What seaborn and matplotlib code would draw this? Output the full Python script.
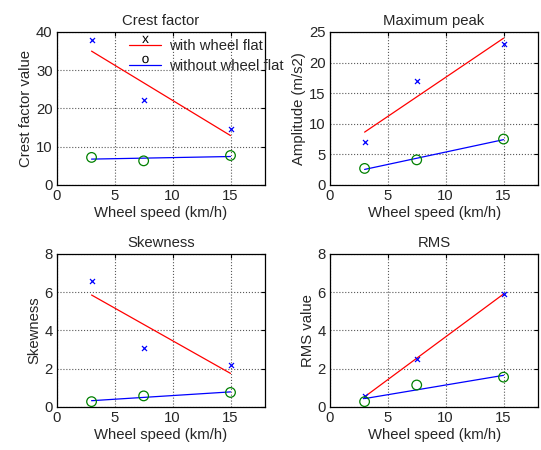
import numpy as np
import seaborn as sns
from matplotlib import pyplot as plt
from matplotlib.lines import Line2D
from matplotlib.path import Path
from matplotlib.textpath import TextPath
from matplotlib.font_manager import FontProperties

speed = [3, 7.5, 15]

crest_flat = [37.8, 22.2, 14.6]
crest_ok = [7.2, 6.3, 7.7]
peak_flat = [7.0, 17.0, 23.0]
peak_ok = [2.7, 4.1, 7.5]
skew_flat = [6.6, 3.1, 2.2]
skew_ok = [0.27, 0.57, 0.75]
rms_flat = [0.56, 2.48, 5.92]
rms_ok = [0.27, 1.14, 1.55]

panels = [
    ("Crest factor", "Crest factor value", crest_flat, crest_ok, 40, 10),
    ("Maximum peak", "Amplitude (m/s2)", peak_flat, peak_ok, 25, 5),
    ("Skewness", "Skewness", skew_flat, skew_ok, 8, 2),
    ("RMS", "RMS value", rms_flat, rms_ok, 8, 2),
]

FS = 10.7

sns.set_style("white")
plt.rcParams["font.family"] = ["Liberation Sans", "DejaVu Sans"]
plt.rcParams["font.size"] = FS


def glyph(ch):
    # text glyph as marker path, lifted above the legend line
    tp = TextPath((0, 0), ch, size=1, prop=FontProperties(family="Liberation Sans"))
    ext = tp.get_extents()
    v = tp.vertices.copy()
    v[:, 0] -= (ext.x0 + ext.x1) / 2
    v[:, 1] += 0.18
    return Path(v, tp.codes)


fig, axes = plt.subplots(2, 2, figsize=(5.41, 4.5), dpi=100)
fig.subplots_adjust(left=0.105, right=0.995, bottom=0.096, top=0.929,
                    wspace=0.31, hspace=0.45)

for ax, (title, ylabel, flat, ok, ymax, ystep) in zip(axes.flat, panels):
    sns.regplot(x=speed, y=flat, ci=None, marker="x", ax=ax,
                scatter_kws=dict(color="blue", s=13, linewidths=0.9, alpha=1, zorder=3),
                line_kws=dict(color="red", lw=0.9, zorder=2))
    sns.regplot(x=speed, y=ok, ci=None, marker="o", ax=ax,
                scatter_kws=dict(color="green", facecolors="none", s=48,
                                 linewidths=0.9, alpha=1, zorder=3),
                line_kws=dict(color="blue", lw=0.9, zorder=2))
    ax.set(xlim=(0, 18), ylim=(0, ymax), xticks=[0, 5, 10, 15],
           yticks=np.arange(0, ymax + 0.1, ystep))
    ax.set_title(title, fontsize=FS, pad=5)
    ax.set_xlabel("Wheel speed (km/h)", fontsize=FS, labelpad=2)
    ax.set_ylabel(ylabel, fontsize=FS, labelpad=2)
    ax.grid(True, color="0.35", linestyle=":", linewidth=0.8)
    ax.tick_params(direction="in", length=3, top=True, right=True,
                   labelsize=FS, pad=3, color="k")
    for sp in ax.spines.values():
        sp.set_color("k")
        sp.set_linewidth(0.9)

handles = [
    Line2D([], [], color="red", lw=0.9, marker=glyph("x"), markersize=14,
           markerfacecolor="k", markeredgewidth=0),
    Line2D([], [], color="blue", lw=0.9, marker=glyph("o"), markersize=14,
           markerfacecolor="k", markeredgewidth=0),
]
axes[0, 0].legend(handles, ["with wheel flat", "without wheel flat"],
                  loc="upper left", bbox_to_anchor=(0.33, 0.975), frameon=False,
                  handlelength=2.2, handletextpad=0.5, labelspacing=0.45,
                  borderaxespad=0, borderpad=0.2, fontsize=FS, numpoints=1)

fig.savefig("out.png", dpi=100)
